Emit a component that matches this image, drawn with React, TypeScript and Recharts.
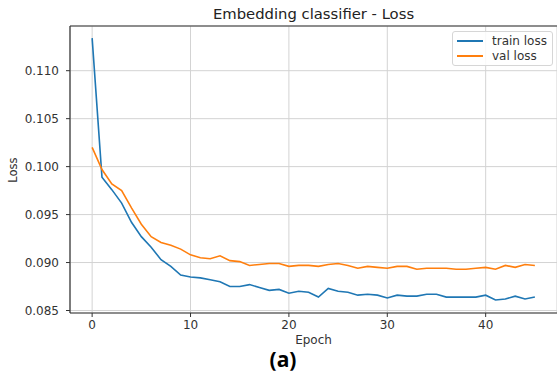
import React from "react";
import { LineChart, Line, XAxis, YAxis, CartesianGrid, ReferenceLine, Legend } from "recharts";

const epochs = Array.from({ length: 46 }, (_, i) => i);
const trainLoss = [
  0.1134, 0.0989, 0.0976, 0.0962, 0.0942, 0.0927, 0.0916, 0.0903, 0.0896, 0.0887,
  0.0885, 0.0884, 0.0882, 0.0880, 0.0875, 0.0875, 0.0877, 0.0874, 0.0871, 0.0872,
  0.0868, 0.0870, 0.0869, 0.0864, 0.0873, 0.0870, 0.0869, 0.0866, 0.0867, 0.0866,
  0.0863, 0.0866, 0.0865, 0.0865, 0.0867, 0.0867, 0.0864, 0.0864, 0.0864, 0.0864,
  0.0866, 0.0861, 0.0862, 0.0865, 0.0862, 0.0864,
];
const valLoss = [
  0.1020, 0.0997, 0.0982, 0.0975, 0.0957, 0.0940, 0.0927, 0.0921, 0.0918, 0.0914,
  0.0908, 0.0905, 0.0904, 0.0907, 0.0902, 0.0901, 0.0897, 0.0898, 0.0899, 0.0899,
  0.0896, 0.0897, 0.0897, 0.0896, 0.0898, 0.0899, 0.0897, 0.0894, 0.0896, 0.0895,
  0.0894, 0.0896, 0.0896, 0.0893, 0.0894, 0.0894, 0.0894, 0.0893, 0.0893, 0.0894,
  0.0895, 0.0893, 0.0897, 0.0895, 0.0898, 0.0897,
];
const xTicks = [0, 10, 20, 30, 40];
const yTicks = [0.085, 0.09, 0.095, 0.1, 0.105, 0.11];
const seriesNames = ["train loss", "val loss"];
const seriesColors = ["#1f77b4", "#ff7f0e"];

const data = epochs.map((e, i) => ({ epoch: e, train: trainLoss[i], val: valLoss[i] }));

const FONT = "'DejaVu Sans', sans-serif";
const Y_MIN = 0.08474;
const Y_MAX = 0.11466;

function LegendBox() {
  return (
    <div
      style={{
        position: "absolute",
        left: 452,
        top: 31,
        width: 101,
        height: 35,
        border: "1px solid #d6d6d6",
        borderRadius: 3,
        background: "rgba(255,255,255,0.85)",
        fontFamily: FONT,
        fontSize: 12,
        color: "#333",
        boxSizing: "border-box",
      }}
    >
      {seriesNames.map((n, i) => (
        <div key={n} style={{ position: "absolute", left: 4, top: 1 + i * 15, height: 15, display: "flex", alignItems: "center", whiteSpace: "nowrap" }}>
          <span style={{ display: "inline-block", width: 26, height: 2, background: seriesColors[i], marginRight: 9 }} />
          <span>{n}</span>
        </div>
      ))}
    </div>
  );
}

export default function App() {
  return (
    <div style={{ position: "absolute", left: 0, top: 0, width: 557, height: 376, background: "#fff", overflow: "hidden" }}>
      <LineChart
        width={557}
        height={376}
        data={data}
        margin={{ top: 26, right: 0, bottom: 0, left: 0 }}
      >
        <CartesianGrid stroke="#d3d3d3" strokeWidth={1} />
        <XAxis
          dataKey="epoch"
          type="number"
          domain={[-2.25, 47.25]}
          ticks={xTicks}
          allowDataOverflow
          height={63}
          tickSize={4}
          tickMargin={3}
          stroke="#333"
          tick={{ fill: "#333", fontSize: 12, fontFamily: FONT }}
          axisLine={{ stroke: "#333", strokeWidth: 1.2 }}
        />
        <YAxis
          type="number"
          domain={[Y_MIN, Y_MAX]}
          ticks={yTicks}
          allowDataOverflow
          width={70}
          tickSize={4}
          tickMargin={7}
          stroke="#333"
          tickFormatter={(v: number) => v.toFixed(3)}
          tick={{ fill: "#333", fontSize: 12, fontFamily: FONT }}
          axisLine={{ stroke: "#333", strokeWidth: 1.2 }}
        />
        <ReferenceLine y={Y_MAX} stroke="#333" strokeWidth={1.2} />
        <Line type="linear" dataKey="train" name={seriesNames[0]} stroke={seriesColors[0]} strokeWidth={1.6} dot={false} isAnimationActive={false} />
        <Line type="linear" dataKey="val" name={seriesNames[1]} stroke={seriesColors[1]} strokeWidth={1.6} dot={false} isAnimationActive={false} />
        <Legend content={() => null} />
      </LineChart>
      <div style={{ position: "absolute", left: 70, width: 487, top: 5, textAlign: "center", fontFamily: FONT, fontSize: 14.8, color: "#222", whiteSpace: "nowrap" }}>
        Embedding classifier - Loss
      </div>
      <div style={{ position: "absolute", left: 70, width: 487, top: 333, textAlign: "center", fontFamily: FONT, fontSize: 12, color: "#333" }}>
        Epoch
      </div>
      <div style={{ position: "absolute", left: 13, top: 170, width: 0, height: 0 }}>
        <div style={{ position: "absolute", left: -30, top: -8, width: 60, textAlign: "center", transform: "rotate(-90deg)", fontFamily: FONT, fontSize: 11.5, color: "#333", lineHeight: "16px" }}>
          Loss
        </div>
      </div>
      <div style={{ position: "absolute", left: 233, width: 100, top: 345, textAlign: "center", fontFamily: "'Open Sans', sans-serif", fontWeight: 700, fontSize: 21, color: "#000", lineHeight: "28px" }}>
        (a)
      </div>
      <LegendBox />
    </div>
  );
}
